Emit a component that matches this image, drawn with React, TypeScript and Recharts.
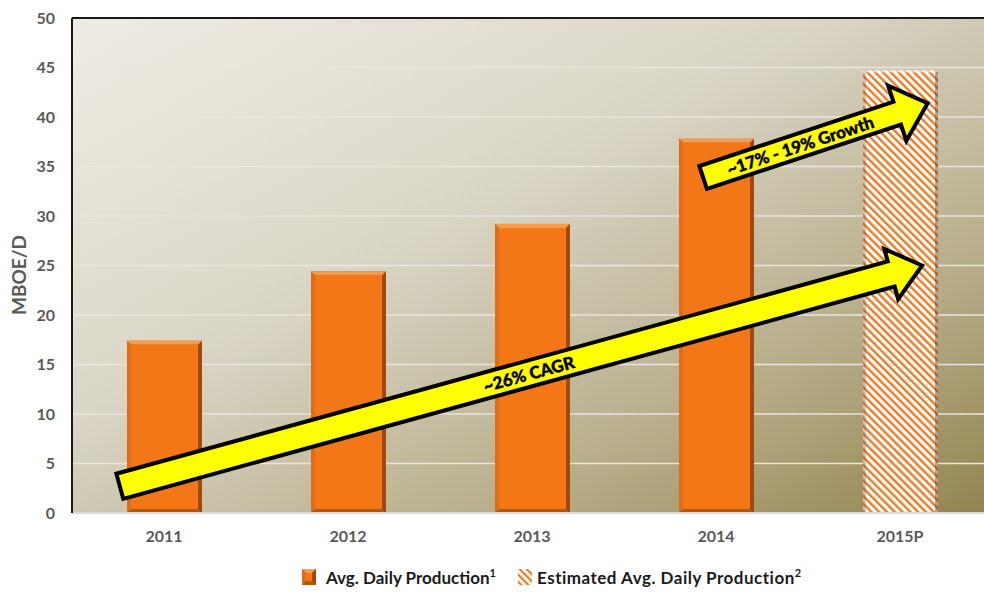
import { BarChart, Bar, XAxis, YAxis, CartesianGrid, ReferenceLine } from "recharts";

const categories = ["2011", "2012", "2013", "2014", "2015P"];
const avgDailyProduction = [17.4, 24.4, 29.2, 37.8, null];
const estimatedProduction = [null, null, null, null, 44.7];
const yTicks = [0, 5, 10, 15, 20, 25, 30, 35, 40, 45, 50];

// annotation arrows: tail -> tip; x as category index (0 = 2011 centre), y in MBOE/D
const cagrArrow = [{ x: -0.24, y: 2.7 }, { x: 4.12, y: 25.0 }];
const growthArrow = [{ x: 2.93, y: 33.9 }, { x: 4.15, y: 41.4 }];

const data = categories.map((c, i) => ({
  year: c,
  actual: avgDailyProduction[i],
  estimated: estimatedProduction[i],
}));

const FONT = "Lato, 'Open Sans', sans-serif";
const AXIS_GREY = "#595959";

function BevelBar(props: any) {
  const { x, y, width, height } = props;
  if (!height || height <= 0) return null;
  const b = 4;
  return (
    <g>
      <rect x={x} y={y} width={width} height={height} fill="#B5560E" />
      <polygon
        points={`${x},${y} ${x + width},${y} ${x + width - b},${y + b} ${x + b},${y + b}`}
        fill="#F99C48"
      />
      <polygon
        points={`${x},${y} ${x + b},${y + b} ${x + b},${y + height - b} ${x},${y + height}`}
        fill="#E06C14"
      />
      <polygon
        points={`${x + width},${y} ${x + width},${y + height} ${x + width - b},${y + height - b} ${x + width - b},${y + b}`}
        fill="#9E4A0C"
      />
      <rect x={x + b} y={y + b} width={width - 2 * b} height={height - 2 * b} fill="#F37617" />
    </g>
  );
}

function HatchBar(props: any) {
  const { x, y, width, height } = props;
  if (!height || height <= 0) return null;
  return (
    <g>
      <rect x={x} y={y} width={width} height={height} fill="url(#hatch)" />
      <rect x={x} y={y} width={3} height={height} fill="#7a5a40" opacity={0.35} />
      <rect x={x + width - 3} y={y} width={3} height={height} fill="#5a3a20" opacity={0.45} />
      <rect x={x} y={y} width={width} height={2} fill="#ffffff" opacity={0.6} />
    </g>
  );
}

function arrow(
  tail: number[],
  tip: number[],
  label: string,
  shaftHalf: number,
  headHalf: number,
  headLen: number,
  t: number
) {
  const [x1, y1] = tail;
  const [x2, y2] = tip;
  const dx = x2 - x1;
  const dy = y2 - y1;
  const len = Math.sqrt(dx * dx + dy * dy);
  const ux = dx / len;
  const uy = dy / len;
  const nx = -uy;
  const ny = ux;
  const bx = x2 - ux * headLen;
  const by = y2 - uy * headLen;
  const pts = [
    [x1 + nx * shaftHalf, y1 + ny * shaftHalf],
    [bx + nx * shaftHalf, by + ny * shaftHalf],
    [bx + nx * headHalf, by + ny * headHalf],
    [x2, y2],
    [bx - nx * headHalf, by - ny * headHalf],
    [bx - nx * shaftHalf, by - ny * shaftHalf],
    [x1 - nx * shaftHalf, y1 - ny * shaftHalf],
  ]
    .map((q) => `${q[0]},${q[1]}`)
    .join(" ");
  const cx = x1 + (bx - x1) * t;
  const cy = y1 + (by - y1) * t;
  const ang = (Math.atan2(dy, dx) * 180) / Math.PI;
  return (
    <g key={label}>
      <polygon points={pts} fill="#FFFF00" stroke="#000" strokeWidth={4} strokeLinejoin="miter" />
      <text
        x={cx}
        y={cy}
        transform={`rotate(${ang}, ${cx}, ${cy})`}
        textAnchor="middle"
        dominantBaseline="central"
        fontFamily={FONT}
        fontWeight={900}
        fontSize={17}
        fill="#000"
        stroke="#000"
        strokeWidth={0.4}
      >
        {label}
      </text>
    </g>
  );
}

// The reference segment runs from (first category, 0) to (last category, 50);
// its end points give the chart's own x and y scales for the annotations.
function Annotations(p: any) {
  const { x1, y1, x2, y2 } = p;
  if (x1 == null) return null;
  const stepX = (x2 - x1) / (categories.length - 1);
  const stepY = (y2 - y1) / 50;
  const px = (pt: { x: number; y: number }) => [x1 + pt.x * stepX, y1 + pt.y * stepY];
  return (
    <g>
      {arrow(px(cagrArrow[0]), px(cagrArrow[1]), "~26% CAGR", 13, 26, 32, 0.53)}
      {arrow(px(growthArrow[0]), px(growthArrow[1]), "~17% - 19% Growth", 12, 29, 32, 0.5)}
    </g>
  );
}

function LegendIcon({ hatched }: { hatched?: boolean }) {
  return (
    <svg width={14} height={16} style={{ display: "block" }}>
      <defs>
        <pattern id="hatchLegend" patternUnits="userSpaceOnUse" width={5} height={5} patternTransform="rotate(-45)">
          <rect width={5} height={5} fill="#fff" />
          <rect width={2.2} height={5} fill="#EE7A22" />
        </pattern>
      </defs>
      {hatched ? (
        <rect x={0} y={0} width={14} height={16} fill="url(#hatchLegend)" />
      ) : (
        <BevelBar x={0} y={0} width={14} height={16} />
      )}
    </svg>
  );
}

const legendText = {
  position: "absolute" as const,
  top: 566,
  fontFamily: FONT,
  fontWeight: 700,
  fontSize: 17,
  color: "#1a1a1a",
  whiteSpace: "nowrap" as const,
};

export default function App() {
  return (
    <div style={{ position: "absolute", left: 0, top: 0, width: 984, height: 595, overflow: "hidden", background: "#fff" }}>
      <BarChart width={992} height={595} data={data} margin={{ top: 18, right: 0, bottom: 52, left: 0 }}>
        <defs>
          <linearGradient id="bgGrad" x1="0" y1="0" x2="1" y2="1">
            <stop offset="0%" stopColor="#EFECE4" />
            <stop offset="40%" stopColor="#DAD6C7" />
            <stop offset="75%" stopColor="#B5AB86" />
            <stop offset="100%" stopColor="#928450" />
          </linearGradient>
          <pattern id="hatch" patternUnits="userSpaceOnUse" width={5.5} height={5.5} patternTransform="rotate(-45)">
            <rect width={5.5} height={5.5} fill="#FFFFFF" />
            <rect width={2.4} height={5.5} fill="#EE7A22" />
          </pattern>
        </defs>
        <CartesianGrid fill="url(#bgGrad)" vertical={false} stroke="#E9E5E0" strokeWidth={1.5} />
        <XAxis
          dataKey="year"
          height={30}
          tickSize={0}
          tickMargin={18}
          axisLine={{ stroke: "#D9D9D9", strokeWidth: 2 }}
          tick={{ fill: AXIS_GREY, fontSize: 16, fontWeight: 700, fontFamily: FONT }}
        />
        <YAxis
          width={72}
          domain={[0, 50]}
          ticks={yTicks}
          tickSize={0}
          tickMargin={17}
          axisLine={{ stroke: "#1a1a1a", strokeWidth: 2 }}
          tick={{ fill: AXIS_GREY, fontSize: 16, fontWeight: 700, fontFamily: FONT }}
        />
        <ReferenceLine y={50} stroke="#1a1a1a" strokeWidth={2} />
        <Bar dataKey="actual" stackId="p" barSize={75} shape={<BevelBar />} isAnimationActive={false} />
        <Bar dataKey="estimated" stackId="p" barSize={75} shape={<HatchBar />} isAnimationActive={false} />
        <ReferenceLine
          segment={[
            { x: categories[0], y: 0 },
            { x: categories[categories.length - 1], y: 50 },
          ]}
          ifOverflow="visible"
          shape={Annotations}
        />
      </BarChart>
      <div
        style={{
          position: "absolute",
          left: 18,
          top: 275,
          transform: "translate(-50%, -50%) rotate(-90deg)",
          fontFamily: FONT,
          fontWeight: 700,
          fontSize: 19,
          color: AXIS_GREY,
          whiteSpace: "nowrap",
        }}
      >
        MBOE/D
      </div>
      <div style={{ position: "absolute", left: 302, top: 569 }}>
        <LegendIcon />
      </div>
      <div style={{ ...legendText, left: 326 }}>
        Avg. Daily Production<sup style={{ fontSize: 11 }}>1</sup>
      </div>
      <div style={{ position: "absolute", left: 518, top: 569 }}>
        <LegendIcon hatched />
      </div>
      <div style={{ ...legendText, left: 537, letterSpacing: 0.5 }}>
        Estimated Avg. Daily Production<sup style={{ fontSize: 11 }}>2</sup>
      </div>
    </div>
  );
}
